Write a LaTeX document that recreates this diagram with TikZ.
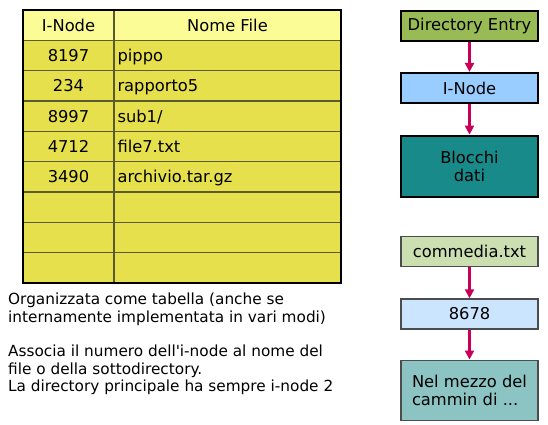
\documentclass[tikz,border=0pt]{standalone}
\usepackage{fontspec}
\setmainfont{DejaVu Sans}
\usetikzlibrary{positioning,arrows.meta}
\definecolor{headyellow}{HTML}{FCFC96}
\definecolor{bodyyellow}{HTML}{E6E04C}
\definecolor{gridolive}{HTML}{5A5A30}
\definecolor{entrygreen}{HTML}{99BB55}
\definecolor{inodeblue}{HTML}{99CCFF}
\definecolor{blocksteal}{HTML}{198A8A}
\definecolor{paleentry}{HTML}{CCDFB0}
\definecolor{paleinode}{HTML}{CCE5FF}
\definecolor{paleteal}{HTML}{8CC4C4}
\definecolor{arrowred}{HTML}{C8005A}
\tikzset{
  cell/.style={text height=11.7pt,text depth=0pt},
  topbox/.style={draw,line width=2.4pt,minimum width=137pt,minimum height=30pt,inner sep=2pt},
  examplebox/.style={draw=black!70,line width=1.2pt,minimum width=137pt,minimum height=30pt,inner sep=2pt},
  flow/.style={arrowred,line width=2.2pt,-{Triangle[length=9pt,width=9pt]}},
  note/.style={align=left,inner sep=0pt,anchor=north west,font=\fontsize{15.3}{17.5}\selectfont}
}
\begin{document}
\begin{tikzpicture}[x=1pt,y=-1pt, every node/.style={font=\fontsize{16.3}{18}\selectfont}]
\useasboundingbox (0,0) rectangle (548,424);
% directory table
\fill[headyellow] (23,10) rectangle (341,40.3);
\fill[bodyyellow] (23,40.3) rectangle (341,283);
\foreach \i in {1,...,8}
  \draw[gridolive,line width=1.3pt] (23,10+30.33*\i) -- (341,10+30.33*\i);
\draw[gridolive,line width=1.3pt] (114,10) -- (114,283);
\draw[line width=2.6pt] (23,10) rectangle (341,283);
\node[cell] (hinode) at (68.5,25.2) {I-Node};
\node[cell] (hname) at (227.5,25.2) {Nome File};
\foreach \num/\fname [count=\i] in {8197/pippo,234/rapporto5,8997/{sub1/},4712/file7.txt,3490/archivio.tar.gz}{
  \node[cell] (num\i) at (68.5,25.2+30.33*\i) {\num};
  \node[cell,anchor=west] (name\i) at (114,25.2+30.33*\i) {\fname};
}
% notes
\node[note] (note1) at (8,293) {Organizzata come tabella (anche se\\internamente implementata in vari modi)};
\node[note,below right=19pt and 0pt of note1.south west] (note2) {Associa il numero dell\textquotesingle i-node al nome del\\file o della sottodirectory.\\La directory principale ha sempre i-node 2};
% generic chain
\node[topbox,fill=entrygreen] (dentry) at (469.5,26) {Directory Entry};
\node[topbox,fill=inodeblue,below=29.7pt of dentry] (inode) {I-Node};
\node[topbox,fill=blocksteal,minimum height=61pt,align=center,below=30.3pt of inode] (blocks) {Blocchi\\dati};
\draw[flow] (dentry) -- (inode);
\draw[flow] (inode) -- (blocks);
% example chain
\node[examplebox,fill=paleentry] (fentry) at (469.5,251.7) {commedia.txt};
\node[examplebox,fill=paleinode,below=31pt of fentry] (finode) {8678};
\node[examplebox,fill=paleteal,minimum height=60.7pt,align=left,below=30pt of finode] (fdata) {Nel mezzo del\\cammin di ...};
\draw[flow] (fentry) -- (finode);
\draw[flow] (finode) -- (fdata);
\end{tikzpicture}
\end{document}
